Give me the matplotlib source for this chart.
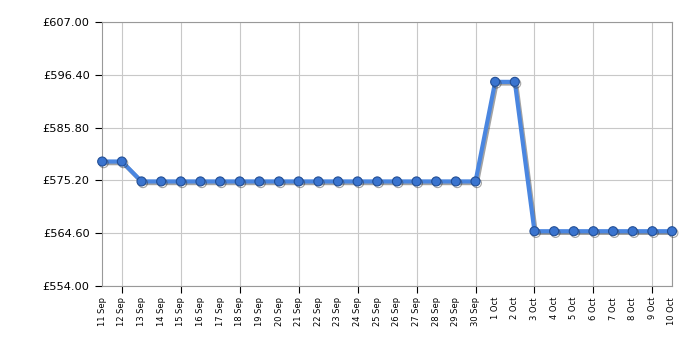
import matplotlib.pyplot as plt
import matplotlib.patheffects as pe

# price history, 11 Sep - 10 Oct
dates = ['11 Sep', '12 Sep', '13 Sep', '14 Sep', '15 Sep', '16 Sep', '17 Sep', '18 Sep',
         '19 Sep', '20 Sep', '21 Sep', '22 Sep', '23 Sep', '24 Sep', '25 Sep', '26 Sep',
         '27 Sep', '28 Sep', '29 Sep', '30 Sep', '1 Oct', '2 Oct', '3 Oct', '4 Oct',
         '5 Oct', '6 Oct', '7 Oct', '8 Oct', '9 Oct', '10 Oct']
prices = [578.99, 578.99] + [574.99] * 18 + [594.99, 594.99] + [564.99] * 8
y_ticks = [554.00, 564.60, 575.20, 585.80, 596.40, 607.00]

fig = plt.figure(figsize=(7, 3.5), dpi=100)
ax = fig.add_axes([0.146, 0.183, 0.814, 0.754])

x = list(range(len(dates)))
ax.plot(x, prices, color='#4a86e0', lw=3, marker='o', ms=6.5,
        markerfacecolor='#3a74cf', markeredgecolor='#234f95', markeredgewidth=0.8,
        zorder=3, clip_on=False,
        path_effects=[pe.SimpleLineShadow(offset=(1, -1.2), shadow_color='#333333', alpha=0.45),
                      pe.Normal()])

ax.set_xlim(0, len(dates) - 1)
ax.set_ylim(554, 607)
ax.set_yticks(y_ticks)
ax.set_yticklabels(['£%.2f' % v for v in y_ticks], fontsize=8.2)

# gridlines every third day, labels every day
ax.xaxis.remove_overlapping_locs = False
grid_x = list(range(1, len(dates), 3))
ax.set_xticks(grid_x)
ax.set_xticklabels([])
ax.set_xticks(x, minor=True)
ax.set_xticklabels(dates, minor=True, rotation=90, fontsize=6)
ax.tick_params(axis='x', which='minor', length=0, pad=8)
ax.tick_params(axis='x', which='major', length=5, color='black')
ax.tick_params(axis='y', length=5, color='black', pad=4)

ax.grid(True, color='#c8c8c8', lw=0.8)
ax.axvline(len(dates) - 1, color='#c8c8c8', lw=0.8)
for s in ax.spines.values():
    s.set_color('#999999')

plt.savefig('out.png', dpi=100)
